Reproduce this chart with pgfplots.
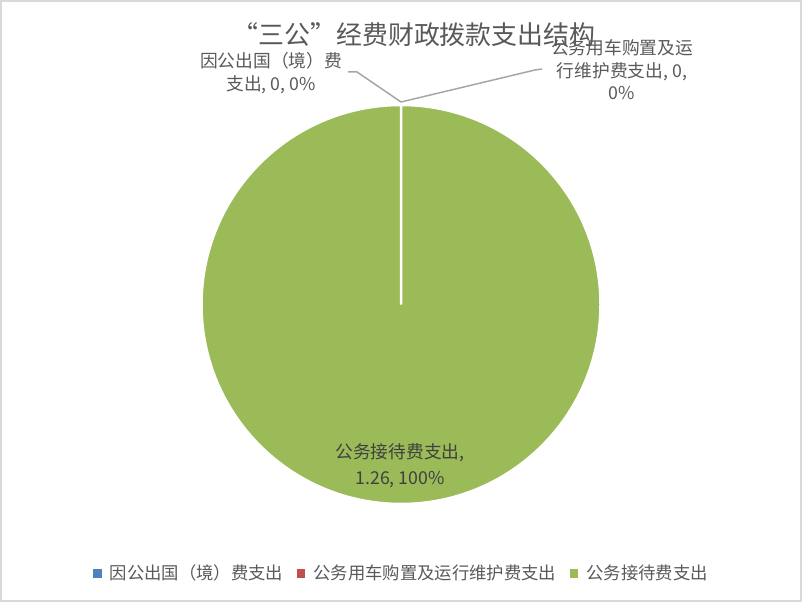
\documentclass[border=0pt]{standalone}
\usepackage{pgfplots}
\usepackage{pgfplotstable}
\pgfplotsset{compat=1.18}
\usepackage{fontspec}
\setmainfont{Noto Sans CJK SC}

\definecolor{txt}{HTML}{595959}
\definecolor{inner}{HTML}{404040}
\definecolor{frame}{HTML}{D9D9D9}
\definecolor{lead}{HTML}{A6A6A6}
\definecolor{pieA}{HTML}{4F81BD}
\definecolor{pieB}{HTML}{C0504D}
\definecolor{pieC}{HTML}{9BBB59}

\pgfplotstableread{
item value
A 0
B 0
C 1.26
}\piedata

\begin{document}
\begin{tikzpicture}
% slice angles, clockwise from 12 o'clock
\pgfplotstablegetelem{0}{value}\of\piedata \let\va\pgfplotsretval
\pgfplotstablegetelem{1}{value}\of\piedata \let\vb\pgfplotsretval
\pgfplotstablegetelem{2}{value}\of\piedata \let\vc\pgfplotsretval
\pgfmathsetmacro\tot{\va+\vb+\vc}
\pgfmathsetmacro\aA{90-360*\va/\tot}
\pgfmathsetmacro\aB{\aA-360*\vb/\tot}
\pgfmathsetmacro\aC{\aB-360*\vc/\tot}
\begin{axis}[
    hide axis, scale only axis,
    width=802bp, height=602bp,
    xmin=0, xmax=802, ymin=0, ymax=602,
    clip=false,
    legend columns=3,
    legend style={at={(axis cs:400.5,29)}, anchor=center, draw=none, fill=none,
        font=\fontsize{17.4}{19}\selectfont, text=txt,
        inner sep=0pt, row sep=0pt, nodes={inner sep=0pt},
        /tikz/every odd column/.append style={column sep=9bp},
        /tikz/every even column/.append style={column sep=13.5bp},
        /tikz/column 2/.append style={column sep=32bp}},
    legend image code/.code={\fill[#1] (0bp,-3.7bp) rectangle (7.4bp,3.7bp);},
]
\addlegendimage{pieA}\addlegendentry{因公出国（境）费支出}
\addlegendimage{pieB}\addlegendentry{公务用车购置及运行维护费支出}
\addlegendimage{pieC}\addlegendentry{公务接待费支出}

% frame
\draw[frame, line width=2bp] (axis cs:1,1) rectangle (axis cs:801,601);

% pie
\filldraw[fill=pieC, draw=white, line width=2.5bp]
  (axis cs:401,297.5) -- ++(\aB:199.5bp) arc[start angle=\aB, end angle=\aC, radius=199.5bp] -- cycle;
\filldraw[fill=pieA, draw=white, line width=2.5bp]
  (axis cs:401,297.5) -- ++(90:199.5bp) arc[start angle=90, end angle=\aA, radius=199.5bp] -- cycle;
\filldraw[fill=pieB, draw=white, line width=2.5bp]
  (axis cs:401,297.5) -- ++(\aA:199.5bp) arc[start angle=\aA, end angle=\aB, radius=199.5bp] -- cycle;

% leader lines
\draw[lead, line width=1.5bp] (axis cs:401,500) -- (axis cs:357,530) -- (axis cs:348,530);
\draw[lead, line width=1.5bp] (axis cs:401,500) -- (axis cs:535,532) -- (axis cs:542,533);

% title
\node[text=txt, font=\fontsize{26}{28}\selectfont] at (axis cs:414,567) {“三公”经费财政拨款支出结构};

% data labels
\node[text=txt, align=center, font=\fontsize{17.8}{23}\selectfont] at (axis cs:271,528.5)
  {因公出国（境）费\\支出, 0, 0\%};
\node[text=txt, align=center, font=\fontsize{17.8}{22.5}\selectfont] at (axis cs:622,532)
  {公务用车购置及运\\行维护费支出, 0,\\0\%};
\node[text=inner, align=center, font=\fontsize{17.8}{26}\selectfont] at (axis cs:400,136)
  {公务接待费支出,\\1.26, 100\%};
\end{axis}
\end{tikzpicture}
\end{document}
